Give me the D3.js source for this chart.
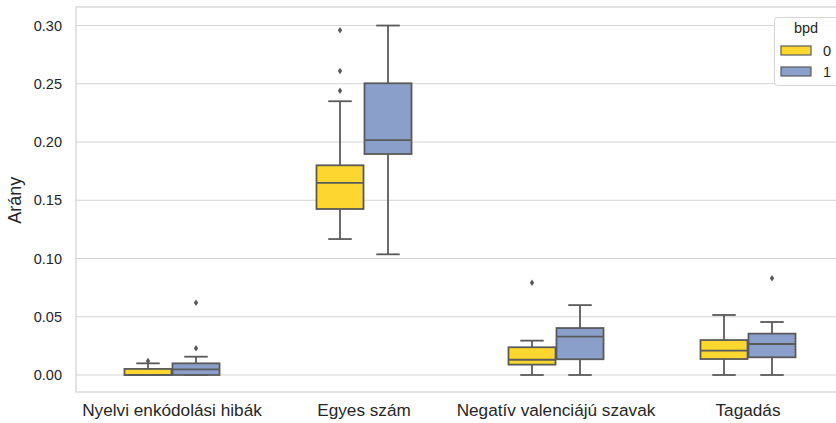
<!DOCTYPE html>
<html>
<head>
<meta charset="utf-8">
<script src="https://cdn.jsdelivr.net/npm/d3@7"></script>
<style>
  html, body { margin: 0; padding: 0; background: #fff; }
  svg { display: block; font-family: "Liberation Sans", Arial, sans-serif; }
</style>
</head>
<body>
<svg id="chart" width="836" height="423"></svg>
<script>
// ---- data ----
const categories = ["Nyelvi enkódolási hibák", "Egyes szám", "Negatív valenciájú szavak", "Tagadás"];
const hues = ["0", "1"];
const hueColors = ["#fdd72f", "#8b9fcb"];
const yTicks = [0.00, 0.05, 0.10, 0.15, 0.20, 0.25, 0.30];

// per category: [whiskerLow, q1, median, q3, whiskerHigh]
const stats0 = [
  [0.0000, 0.0000, 0.0000, 0.0052, 0.0100],
  [0.1167, 0.1425, 0.1650, 0.1800, 0.2350],
  [0.0000, 0.0089, 0.0131, 0.0238, 0.0295],
  [0.0000, 0.0137, 0.0209, 0.0300, 0.0515]
];
const stats1 = [
  [0.0000, 0.0000, 0.0049, 0.0100, 0.0157],
  [0.1036, 0.1897, 0.2017, 0.2504, 0.3000],
  [0.0000, 0.0135, 0.0329, 0.0403, 0.0600],
  [0.0000, 0.0152, 0.0266, 0.0355, 0.0455]
];
const outliers0 = [[0.0120], [0.244, 0.261, 0.296], [0.0792], []];
const outliers1 = [[0.0229, 0.062], [], [], [0.083]];

// ---- layout ----
const svg = d3.select("#chart");
const mLeft = 76, mRight = 844, mTop = 7, mBottom = 392;
const lineColor = "#5a5a5a";
const textColor = "#262626";
const gridColor = "#d5d5d5";

const x = d3.scaleBand().domain(categories).range([mLeft, mRight]).padding(0);
const xh = d3.scaleBand().domain(hues).range([-48, 48]).padding(0);
const y = d3.scaleLinear().domain([-0.0146, 0.3159]).range([mBottom, mTop]);

// grid
svg.append("g").selectAll("line").data(yTicks).join("line")
  .attr("x1", mLeft).attr("x2", mRight)
  .attr("y1", d => y(d)).attr("y2", d => y(d))
  .attr("stroke", gridColor).attr("stroke-width", 1.1);

// frame (spines)
svg.append("rect").attr("x", mLeft).attr("y", mTop)
  .attr("width", mRight - mLeft).attr("height", mBottom - mTop)
  .attr("fill", "none").attr("stroke", gridColor).attr("stroke-width", 1.3);

// y axis
const yAxis = d3.axisLeft(y).tickValues(yTicks).tickFormat(d3.format(".2f")).tickSize(0).tickPadding(14);
const gy = svg.append("g").attr("transform", `translate(${mLeft},0)`).call(yAxis);
gy.select(".domain").remove();
gy.selectAll("text").attr("fill", textColor).style("font-size", "14.5px");

// x axis
const xAxis = d3.axisBottom(x).tickSize(0).tickPadding(12);
const gx = svg.append("g").attr("transform", `translate(0,${mBottom})`).call(xAxis);
gx.select(".domain").remove();
gx.selectAll("text").attr("fill", textColor).style("font-size", "17.2px");

// y label
svg.append("text")
  .attr("transform", `translate(21,${y(0.15)}) rotate(-90)`)
  .attr("text-anchor", "middle")
  .attr("fill", textColor)
  .style("font-size", "18px")
  .text("Arány");

// boxes
const allStats = [stats0, stats1];
const allOut = [outliers0, outliers1];
const boxW = xh.bandwidth() * 0.98;
const capW = boxW / 2;

hues.forEach((h, hi) => {
  const g = svg.append("g");
  categories.forEach((c, ci) => {
    const [lo, q1, med, q3, hiV] = allStats[hi][ci];
    const cx = x(c) + x.bandwidth() / 2 + xh(h) + xh.bandwidth() / 2;
    g.append("line").attr("x1", cx).attr("x2", cx).attr("y1", y(q3)).attr("y2", y(hiV))
      .attr("stroke", lineColor).attr("stroke-width", 1.8);
    g.append("line").attr("x1", cx).attr("x2", cx).attr("y1", y(q1)).attr("y2", y(lo))
      .attr("stroke", lineColor).attr("stroke-width", 1.8);
    [lo, hiV].forEach(v => {
      g.append("line").attr("x1", cx - capW / 2).attr("x2", cx + capW / 2)
        .attr("y1", y(v)).attr("y2", y(v))
        .attr("stroke", lineColor).attr("stroke-width", 1.8);
    });
    g.append("rect").attr("x", cx - boxW / 2).attr("width", boxW)
      .attr("y", y(q3)).attr("height", y(q1) - y(q3))
      .attr("fill", hueColors[hi]).attr("stroke", lineColor).attr("stroke-width", 1.8);
    g.append("line").attr("x1", cx - boxW / 2).attr("x2", cx + boxW / 2)
      .attr("y1", y(med)).attr("y2", y(med))
      .attr("stroke", lineColor).attr("stroke-width", 1.8);
    allOut[hi][ci].forEach(v => {
      const py = y(v);
      g.append("path")
        .attr("d", `M${cx},${py - 3.2}L${cx + 2.2},${py}L${cx},${py + 3.2}L${cx - 2.2},${py}Z`)
        .attr("fill", lineColor);
    });
  });
});

// legend
const lg = svg.append("g");
lg.append("rect").attr("x", 774.5).attr("y", 17.5).attr("width", 80).attr("height", 68)
  .attr("rx", 3).attr("fill", "#fff").attr("fill-opacity", 0.85)
  .attr("stroke", "#d5d5d5").attr("stroke-width", 1);
lg.append("text").attr("x", 806).attr("y", 33).attr("text-anchor", "middle")
  .attr("fill", textColor).style("font-size", "14.5px").text("bpd");
hues.forEach((h, i) => {
  const yy = 46 + i * 21;
  lg.append("rect").attr("x", 781).attr("y", yy).attr("width", 30).attr("height", 9)
    .attr("fill", hueColors[i]).attr("stroke", lineColor).attr("stroke-width", 1.2);
  lg.append("text").attr("x", 823).attr("y", yy + 9.5)
    .attr("fill", textColor).style("font-size", "14.5px").text(h);
});
</script>
</body>
</html>
